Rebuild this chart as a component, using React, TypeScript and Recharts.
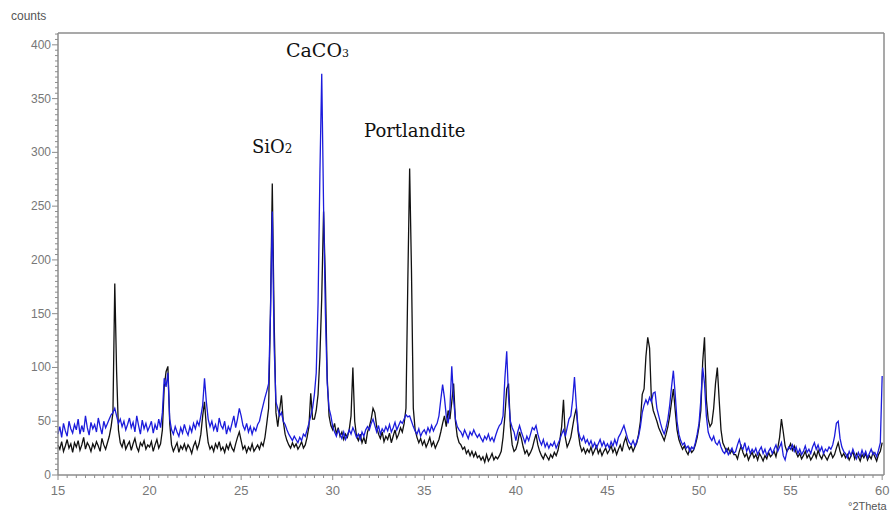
import { LineChart, Line, XAxis, YAxis, ReferenceLine } from "recharts";

// XRD scan, 15–60 °2Theta, one reading per 0.1°
const black = [
  28, 24, 31, 22, 27, 33, 25, 29, 21, 30,
  26, 32, 23, 28, 35, 24, 30, 27, 22, 29,
  25, 31, 27, 22, 34, 28, 24, 30, 36, 45,
  58, 178, 96, 42, 30, 26, 33, 24, 28, 31,
  23, 29, 34, 26, 22, 30, 27, 32, 24, 28,
  26, 31, 22, 28, 33, 25, 29, 42, 82, 96,
  101, 48, 28, 22, 26, 30, 21, 27, 24, 29,
  23, 28, 25, 20, 27, 31, 24, 29, 38, 55,
  68, 45, 30, 24, 27, 22, 29, 25, 31, 23,
  26, 21, 28, 24, 30, 25, 22, 29, 35, 40,
  32, 24, 27, 21, 26, 23, 29, 22, 25, 28,
  24, 30, 27, 35, 48, 62, 150, 271, 145, 58,
  45, 60, 74, 50, 38, 32, 28, 25, 30, 26,
  29, 24, 27, 31, 25, 28, 35, 45, 76, 52,
  52, 60, 75, 110, 165, 245, 180, 90, 55, 46,
  42, 48, 38, 44, 36, 40, 33, 38, 35, 42,
  55, 100, 50, 36, 32, 38, 30, 35, 29, 40,
  45, 52, 62, 58, 45, 38, 34, 40, 31, 36,
  33, 39, 30, 36, 42, 34, 38, 44, 40, 48,
  62, 180, 285, 190, 62, 42, 35, 30, 34, 28,
  32, 26, 30, 35, 27, 31, 25, 29, 33, 40,
  48, 55, 45, 60, 52, 68, 85, 50, 36, 30,
  28, 24, 26, 20, 23, 18, 22, 17, 21, 16,
  18, 14, 17, 12, 19, 13, 16, 20, 14, 17,
  15, 18, 22, 35, 55, 80, 85, 45, 28, 22,
  24, 30, 40, 34, 26, 20, 23, 18, 21, 25,
  32, 38, 28, 22, 18, 15, 20, 17, 14, 19,
  16, 21, 18, 23, 32, 45, 70, 35, 26, 30,
  35, 45, 55, 62, 40, 28, 22, 25, 20, 24,
  21, 26, 19, 23, 27, 20, 24, 18, 22, 25,
  20, 23, 27, 21, 25, 19, 24, 28, 22, 30,
  35, 28, 24, 27, 22, 26, 30, 38, 50, 75,
  80, 110, 128, 118, 70, 60, 55, 50, 44, 40,
  36, 32, 38, 45, 55, 68, 80, 60, 42, 33,
  28, 24, 27, 22, 19, 25, 21, 23, 28, 35,
  45, 60, 105, 128, 70, 52, 45, 48, 62, 85,
  100, 70, 42, 30, 26, 22, 25, 20, 23, 19,
  19, 15, 22, 27, 21, 17, 20, 14, 18, 21,
  16, 19, 14, 20, 17, 13, 18, 15, 21, 17,
  19, 22, 17, 25, 35, 52, 40, 27, 22, 25,
  29, 23, 27, 21, 17, 20, 15, 18, 22, 16,
  19, 14, 17, 21, 16, 23, 18, 15, 20, 17,
  14, 18, 21, 16, 19, 25, 30, 22, 17, 20,
  16, 19, 14, 18, 22, 15, 20, 17, 13, 19,
  16, 20, 14, 18, 15, 21, 17, 13, 19, 22,
  30,
];

const blue = [
  38, 45, 35, 48, 41, 36, 50, 43, 39, 47,
  42, 52, 38, 46, 40, 55, 44, 37, 49, 43,
  47, 40, 53, 45, 38, 50, 44, 48, 52, 56,
  58, 62, 55, 48, 52, 45, 50, 42, 47, 53,
  44, 49, 40, 55, 46, 38, 51, 43, 48, 41,
  45, 50, 39, 47, 42, 52, 44, 58, 90, 82,
  95, 52, 42, 38, 45, 40, 36, 44, 39, 47,
  41, 37, 45, 40, 48, 43, 50, 46, 55, 65,
  90, 68, 52, 45, 50, 42, 47, 40, 53, 46,
  43, 50, 38, 45, 41, 48, 55, 44, 52, 62,
  55, 46, 42, 48, 40, 45, 38, 44, 41, 47,
  50, 58, 65, 72, 78, 85, 150, 245, 120, 68,
  62, 55, 58, 50, 47, 42, 38, 35, 32, 36,
  33, 30, 35, 32, 38, 36, 42, 48, 55, 62,
  75, 95, 160, 280, 373, 250, 150, 85, 62, 55,
  45, 40, 36, 42, 38, 34, 40, 33, 37, 42,
  38, 44, 40, 35, 38, 33, 40, 36, 42, 45,
  42, 48, 52, 46, 40, 46, 38, 43, 40, 45,
  41, 47, 40, 44, 49, 42, 46, 50, 48, 52,
  56, 54, 55, 50, 45, 41, 38, 43, 36, 40,
  42, 38, 44, 40, 46, 41, 45, 48, 55, 70,
  84, 72, 55, 48, 62, 101, 70, 52, 45, 42,
  40, 36, 42, 38, 34, 40, 37, 42, 38, 35,
  38, 34, 31, 36, 33, 38, 32, 35, 31, 37,
  42, 46, 48, 55, 90, 115, 72, 50, 44, 40,
  32, 40, 46, 40, 35, 30, 36, 32, 38, 44,
  42, 46, 38, 32, 28, 33, 26, 30, 25, 29,
  27, 31, 25, 29, 33, 38, 42, 36, 44, 52,
  55, 70, 91, 65, 42, 35, 32, 36, 30, 33,
  28, 32, 26, 30, 25, 29, 33, 27, 31, 26,
  29, 25, 31, 27, 33, 28, 35, 38, 42, 46,
  40, 34, 30, 28, 32, 27, 31, 36, 45, 58,
  65, 70, 66, 72, 68, 76, 77, 62, 55, 48,
  42, 38, 44, 52, 65, 82, 97, 75, 50, 38,
  32, 28, 30, 25, 27, 22, 26, 24, 30, 38,
  48, 70, 100, 85, 55, 40, 35, 32, 36, 30,
  28, 32, 26, 22, 20, 24, 19, 22, 25, 20,
  22, 28, 33, 26, 24, 30, 22, 26, 20, 24,
  21, 25, 19, 23, 26, 20, 24, 18, 22, 25,
  20, 24, 28, 22, 26, 30, 18, 14, 22, 26,
  24, 28, 22, 26, 20, 24, 19, 22, 27, 21,
  24, 20, 26, 30, 24, 28, 22, 26, 20, 24,
  22, 26, 24, 28, 36, 48, 50, 34, 26, 22,
  20, 16, 22, 18, 24, 19, 15, 21, 17, 23,
  18, 22, 16, 20, 24, 19, 21, 17, 23, 30,
  92,
];

const xLabels = [15, 20, 25, 30, 35, 40, 45, 50, 55, 60];
const yLabels = [0, 50, 100, 150, 200, 250, 300, 350, 400];

const twoTheta = black.map((_, i) => Math.round((15 + i * 0.1) * 10) / 10);
const data = twoTheta.map((t, i) => ({ t, black: black[i], blue: blue[i] }));

const xTicks: number[] = [];
for (let v = 15; v <= 60; v += 0.5) xTicks.push(v);
const yTicks: number[] = [];
for (let v = 0; v <= 410; v += 5) yTicks.push(v);

const AXIS = "#8c8c8c";
const LABEL = "#777";

const YTick = (props: any) => {
  const { x, y, payload } = props;
  const major = yLabels.includes(payload.value);
  return (
    <g>
      <line x1={x} x2={x - (major ? 6 : 3)} y1={y} y2={y} stroke={AXIS} />
      {major && (
        <text x={x - 7} y={y + 4} textAnchor="end" fontSize={12} fill={LABEL} fontFamily="Liberation Sans, Arial, sans-serif">
          {payload.value}
        </text>
      )}
    </g>
  );
};

const XTick = (props: any) => {
  const { x, y, payload } = props;
  const major = xLabels.includes(payload.value);
  return (
    <g>
      <line x1={x} x2={x} y1={y} y2={y + (major ? 5 : 3)} stroke={AXIS} />
      {major && (
        <text x={x} y={y + 20} textAnchor="middle" fontSize={13} fill={LABEL} fontFamily="Liberation Sans, Arial, sans-serif">
          {payload.value}
        </text>
      )}
    </g>
  );
};

export default function App() {
  const serif = "DejaVu Serif, serif";
  return (
    <div style={{ position: "absolute", left: 0, top: 0, width: 890, height: 514, background: "#fff" }}>
      <LineChart
        width={890}
        height={514}
        data={data}
        margin={{ top: 33, right: 6, left: 8, bottom: 9 }}
      >
        <XAxis
          dataKey="t"
          type="number"
          domain={[15, 60.1]}
          ticks={xTicks}
          interval={0}
          tickSize={0}
          tickMargin={0}
          tickLine={false}
          tick={<XTick />}
          axisLine={{ stroke: AXIS, strokeWidth: 1.5 }}
          height={30}
        />
        <YAxis
          type="number"
          domain={[0, 411]}
          ticks={yTicks}
          interval={0}
          tickSize={0}
          tickMargin={0}
          tickLine={false}
          tick={<YTick />}
          axisLine={{ stroke: AXIS, strokeWidth: 1.5 }}
          width={50}
        />
        <ReferenceLine y={411} stroke={AXIS} strokeWidth={1.5} />
        <ReferenceLine x={60.1} stroke={AXIS} strokeWidth={1.5} />
        <Line type="linear" dataKey="black" stroke="#111" strokeWidth={1.3} dot={false} isAnimationActive={false} />
        <Line type="linear" dataKey="blue" stroke="#1c1cdc" strokeWidth={1.3} dot={false} isAnimationActive={false} />
      </LineChart>
      <svg width={890} height={514} style={{ position: "absolute", left: 0, top: 0, pointerEvents: "none" }}>
        <text x={11} y={20} fontSize={12} fill="#555" fontFamily="Liberation Sans, Arial, sans-serif">counts</text>
        <text x={848} y={510} fontSize={11} fill="#555" fontFamily="Liberation Sans, Arial, sans-serif">°2Theta</text>
        <text x={286} y={57} fontSize={19} fill="#111" fontFamily={serif}>
          CaCO<tspan fontSize={11}>3</tspan>
        </text>
        <text x={252} y={153} fontSize={18} fill="#111" fontFamily={serif}>
          SiO<tspan fontSize={12}>2</tspan>
        </text>
        <text x={364} y={137} fontSize={18} fill="#111" fontFamily={serif}>Portlandite</text>
      </svg>
    </div>
  );
}
